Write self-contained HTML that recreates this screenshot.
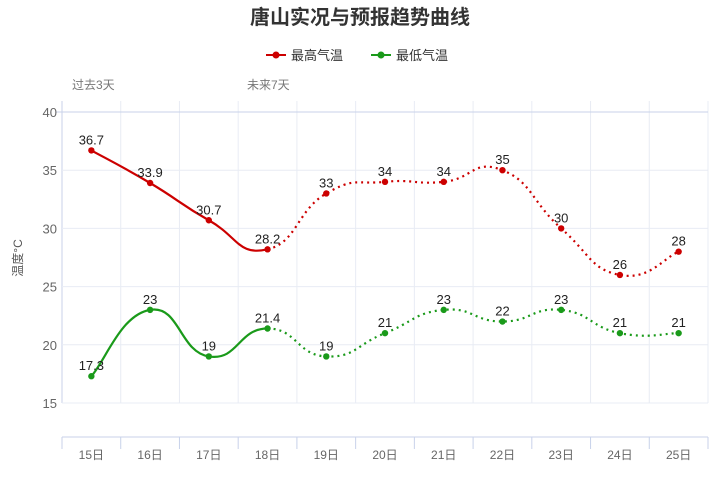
<!DOCTYPE html>
<html><head><meta charset="utf-8">
<style>
body{margin:0;background:#fff;}
svg text{font-family:"Liberation Sans","Noto Sans CJK SC",sans-serif;}
</style></head>
<body>
<svg id="s" width="720" height="480" xmlns="http://www.w3.org/2000/svg">
<text x="360" y="24" text-anchor="middle" font-size="20" font-weight="bold" fill="#333">唐山实况与预报趋势曲线</text>
<line x1="266" y1="55" x2="286" y2="55" stroke="#c00" stroke-width="2"/><circle cx="276" cy="55" r="3.5" fill="#c00"/>
<text x="291" y="60" font-size="13" fill="#333">最高气温</text>
<line x1="371" y1="55" x2="391" y2="55" stroke="#1a9a1a" stroke-width="2"/><circle cx="381" cy="55" r="3.5" fill="#1a9a1a"/>
<text x="396" y="60" font-size="13" fill="#333">最低气温</text>
<text x="72" y="89" font-size="12" fill="#777">过去3天</text>
<text x="247" y="89" font-size="12" fill="#777">未来7天</text>
<text x="22" y="258" font-size="12" fill="#555" transform="rotate(-90 22 258)" text-anchor="middle">温度°C</text>
<g id="g"></g>
</svg>
<script>
var g=document.getElementById('g'),h='';
var x0=62,x1=708,cw=(x1-x0)/11;
function X(i){return x0+cw*(i+0.5);}
function Y(v){return 112+(40-v)*11.64;}
for(var i=0;i<=11;i++){var x=x0+cw*i;h+='<line x1="'+x+'" y1="101" x2="'+x+'" y2="403" stroke="'+(i==0?'#c8d2ea':'#e8ecf4')+'"/>';
h+='<line x1="'+x+'" y1="437" x2="'+x+'" y2="449" stroke="#c8d2ea"/>';}
h+='<line x1="'+x0+'" y1="437" x2="'+x1+'" y2="437" stroke="#c8d2ea"/>';
[40,35,30,25,20,15].forEach(function(v){var y=Y(v);h+='<line x1="'+(v==40?56:62)+'" y1="'+y+'" x2="708" y2="'+y+'" stroke="'+(v==40?'#c8d2ea':'#e8ecf4')+'"/>';
h+='<text x="57" y="'+(y+5)+'" font-size="13" fill="#666" text-anchor="end">'+v+'</text>';});
for(var i=0;i<11;i++)h+='<text x="'+X(i)+'" y="459" font-size="12" fill="#666" text-anchor="middle">'+(15+i)+'日</text>';
function path(d,a,b){var n=d.length;var P=function(i){i=Math.max(0,Math.min(n-1,i));return [X(i),Y(d[i])];};
var p='M'+X(a)+','+Y(d[a]);var t=0.25;
for(var i=a;i<b;i++){var p0=P(i-1),p1=P(i),p2=P(i+1),p3=P(i+2);
var c1=[p1[0]+(p2[0]-p0[0])*t,p1[1]+(p2[1]-p0[1])*t],c2=[p2[0]-(p3[0]-p1[0])*t,p2[1]-(p3[1]-p1[1])*t];
p+=' C'+c1+' '+c2+' '+p2;}return p;}
function series(d,col){h+='<path d="'+path(d,0,3)+'" fill="none" stroke="'+col+'" stroke-width="2.2"/>';
h+='<path d="'+path(d,3,10)+'" fill="none" stroke="'+col+'" stroke-width="2.2" stroke-dasharray="2 4"/>';
d.forEach(function(v,i){h+='<circle cx="'+X(i)+'" cy="'+Y(v)+'" r="3.2" fill="'+col+'"/>';
h+='<text x="'+X(i)+'" y="'+(Y(v)-6)+'" font-size="13" fill="#222" text-anchor="middle">'+v+'</text>';});}
series([36.7,33.9,30.7,28.2,33,34,34,35,30,26,28],'#cc0000');
series([17.3,23,19,21.4,19,21,23,22,23,21,21],'#1a9a1a');
g.innerHTML=h;
</script>
</body></html>
